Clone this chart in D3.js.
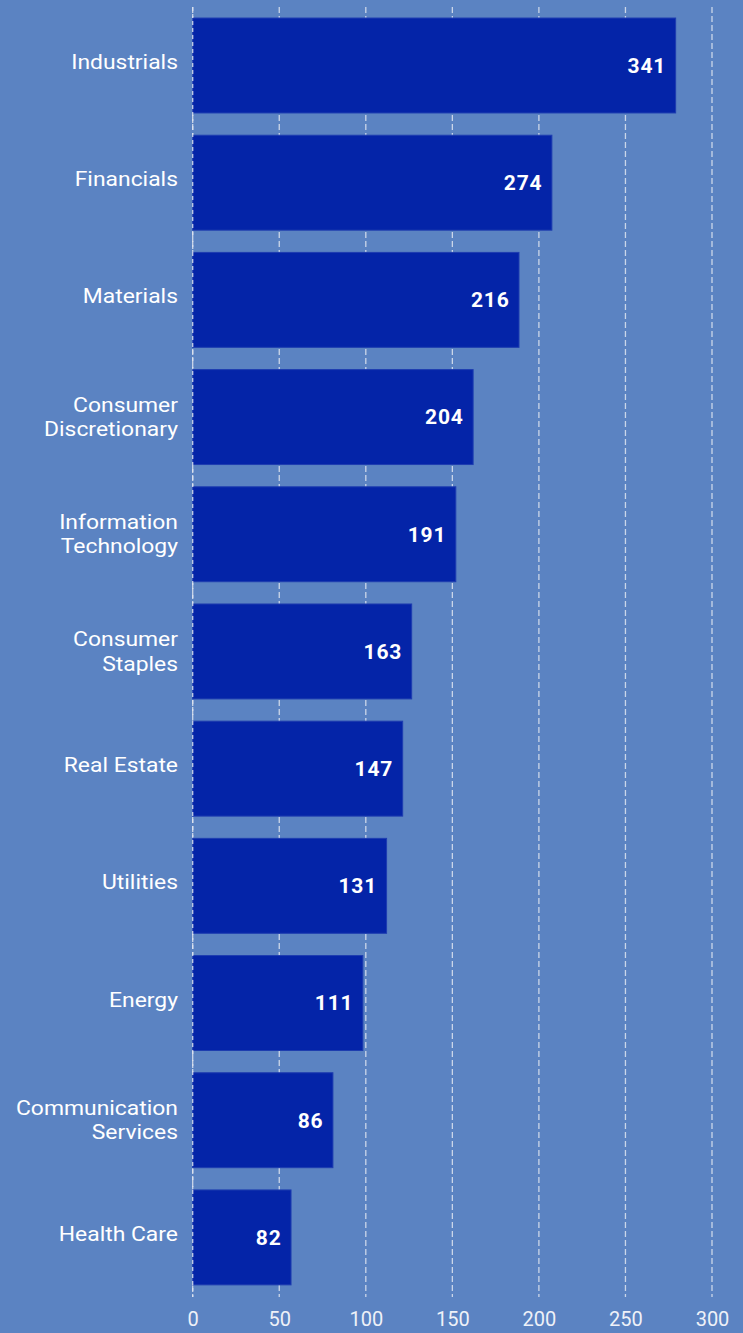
<!DOCTYPE html>
<html><head><meta charset="utf-8">
<script src="https://cdn.jsdelivr.net/npm/d3@7"></script>
<style>html,body{margin:0;padding:0;background:#5b83c2;}svg{display:block;}</style>
</head><body>
<script>
const categories = ["Industrials","Financials","Materials","Consumer Discretionary","Information Technology","Consumer Staples","Real Estate","Utilities","Energy","Communication Services","Health Care"];
const barValues = [279, 207.5, 188.5, 162, 152, 126.5, 121.3, 112, 98.3, 81, 56.8];
const valueLabels = [341, 274, 216, 204, 191, 163, 147, 131, 111, 86, 82];
const xTicks = [0, 50, 100, 150, 200, 250, 300];

const W = 743, H = 1333;
const svg = d3.select("body").append("svg").attr("width", W).attr("height", H);
svg.append("rect").attr("width", W).attr("height", H).attr("fill", "#5b83c2");

const x = d3.scaleLinear().domain([0, 300]).range([192.7, 712]);
const y = d3.scaleBand().domain(categories).range([6.9, 1296]).paddingInner(0.19).paddingOuter(0.095);

// gridlines
svg.append("g").selectAll("line").data(xTicks).join("line")
  .attr("x1", d => x(d)).attr("x2", d => x(d))
  .attr("y1", 7).attr("y2", 1297)
  .attr("stroke", "#dfe5f0").attr("stroke-width", 1.3)
  .attr("stroke-dasharray", "6,3").attr("opacity", 0.85);

// bars
svg.append("g").selectAll("rect").data(categories).join("rect")
  .attr("x", x(0)).attr("y", d => y(d))
  .attr("width", (d, i) => x(barValues[i]) - x(0))
  .attr("height", y.bandwidth())
  .attr("fill", "#0424a8").attr("stroke", "#1e3db0").attr("stroke-width", 1);

// zero line on top
svg.append("line").attr("x1", x(0)).attr("x2", x(0)).attr("y1", 7).attr("y2", 1297)
  .attr("stroke", "#dfe5f0").attr("stroke-width", 1.3).attr("stroke-dasharray", "4,3").attr("opacity", 0.85);

// value labels
svg.append("g").selectAll("text").data(categories).join("text")
  .attr("x", (d, i) => x(barValues[i]) - 9.5)
  .attr("y", d => y(d) + y.bandwidth() / 2)
  .attr("dy", "0.35em")
  .attr("text-anchor", "end")
  .attr("fill", "#ffffff")
  .style("font", "bold 21px Roboto, 'Noto Sans', sans-serif")
  .style("letter-spacing", "0.8px")
  .text((d, i) => valueLabels[i]);

// category labels
const lines = {
  "Consumer Discretionary": ["Consumer", "Discretionary"],
  "Information Technology": ["Information", "Technology"],
  "Consumer Staples": ["Consumer", "Staples"],
  "Communication Services": ["Communication", "Services"]
};
const catG = svg.append("g");
categories.forEach(c => {
  const ls = lines[c] || [c];
  const cy = y(c) + y.bandwidth() / 2 - (ls.length === 1 ? 3.8 : 0.5);
  const t = catG.append("text")
    .attr("transform", "translate(178,0) scale(1.09,1)")
    .attr("text-anchor", "end").attr("fill", "#ffffff")
    .style("font", "21px Roboto, 'Noto Sans', sans-serif");
  ls.forEach((l, j) => {
    t.append("tspan").attr("x", 0)
      .attr("y", cy + (j - (ls.length - 1) / 2) * 24.6)
      .attr("dy", "0.35em").text(l);
  });
});

// x axis labels
const xAxis = d3.axisBottom(x).tickValues(xTicks).tickSize(0).tickPadding(0);
const ax = svg.append("g").attr("transform", "translate(0,1312)").call(xAxis);
ax.select(".domain").remove();
ax.selectAll("text").attr("fill", "#eef1f8")
  .style("font", "20px Roboto, 'Noto Sans', sans-serif");
</script>
</body></html>
